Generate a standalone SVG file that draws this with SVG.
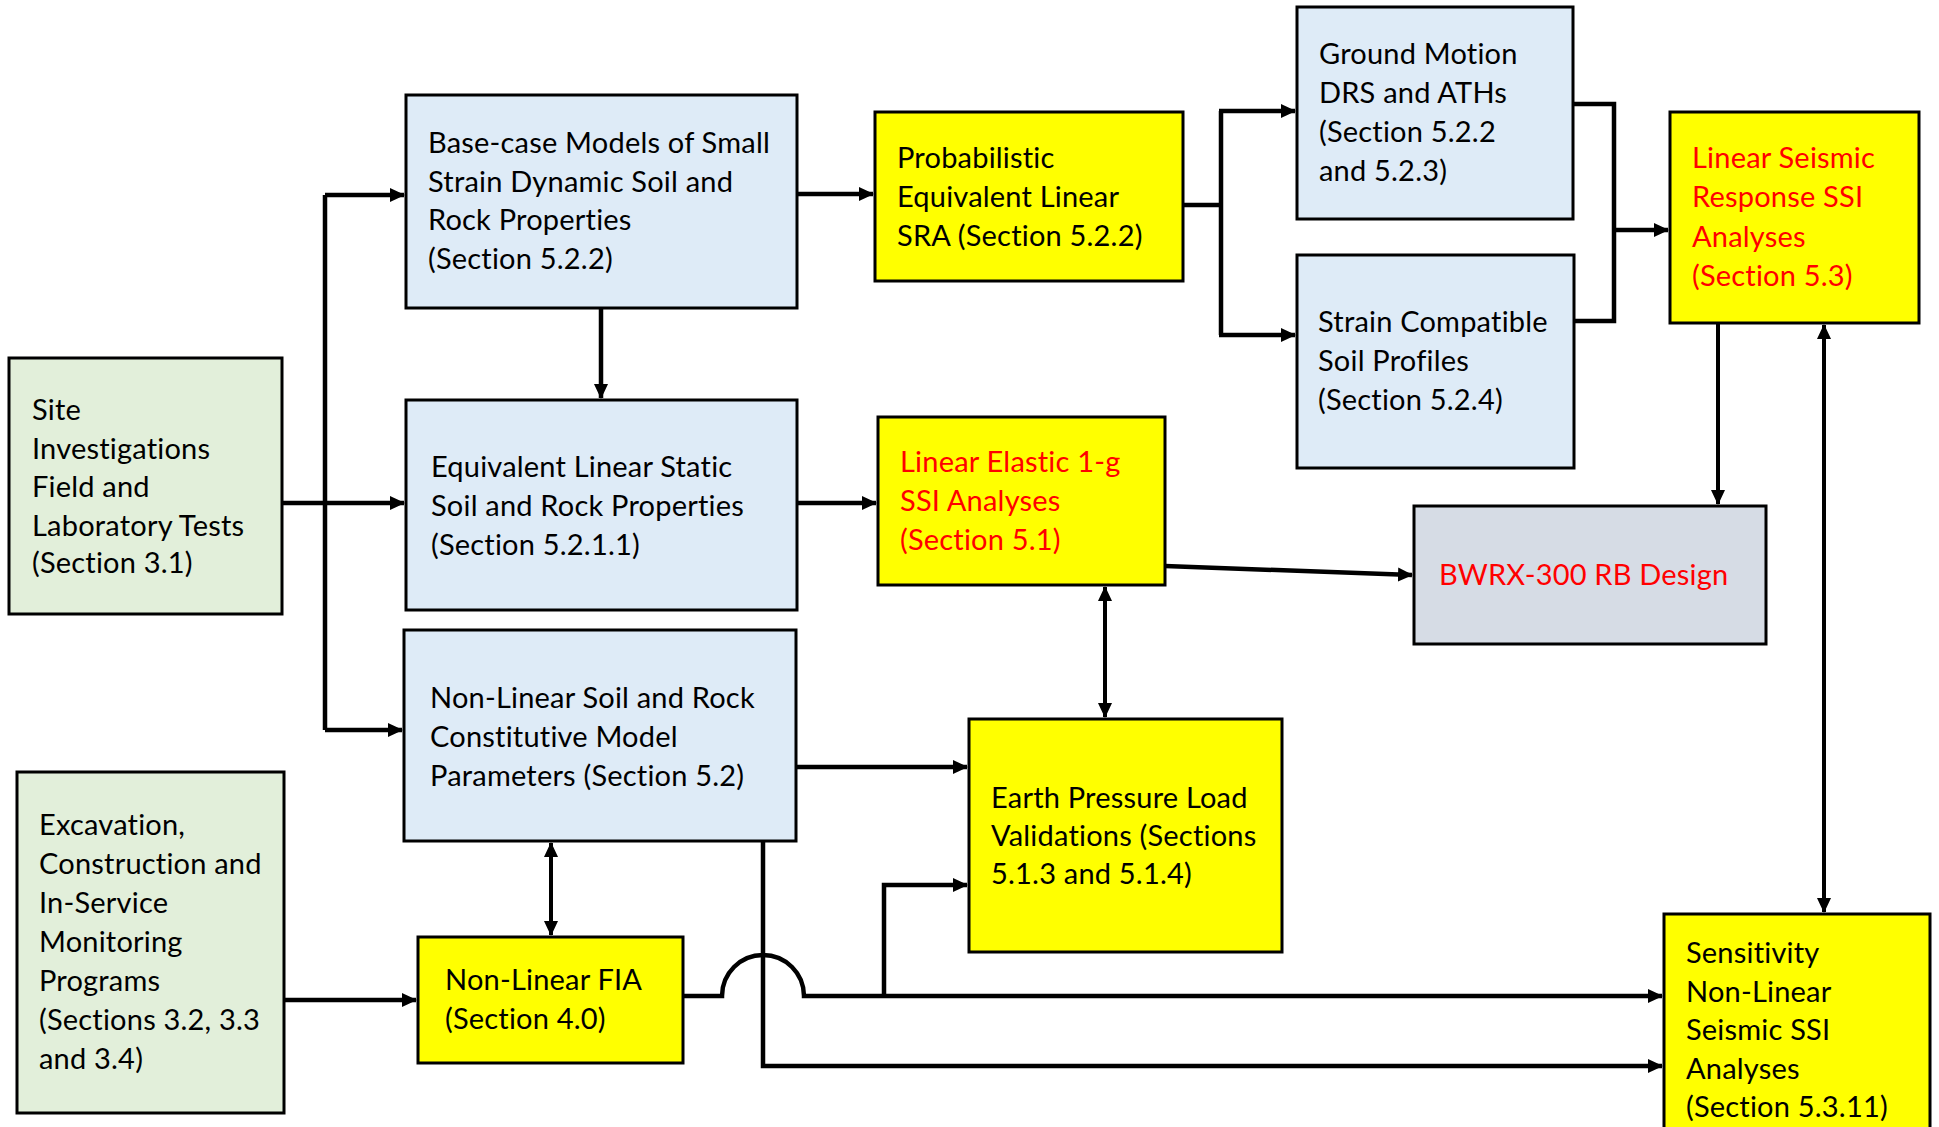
<svg xmlns="http://www.w3.org/2000/svg" width="1939" height="1127" viewBox="0 0 1939 1127">
<style>
  .box{stroke:#000;stroke-width:3}
  .blue{fill:#DEEBF7}
  .green{fill:#E2EFDA}
  .yellow{fill:#FFFF00}
  .gray{fill:#D6DCE5}
  text{font-family:Lato,"Liberation Sans",sans-serif;font-size:29px;letter-spacing:0.2px;fill:#000}
  text.red{fill:#FF0000}
  .conn{fill:none;stroke:#000;stroke-width:4.5}
  .thin{stroke-width:4}
</style>
<defs>
  <marker id="ah" markerUnits="userSpaceOnUse" markerWidth="16" markerHeight="16" refX="14" refY="7" orient="auto-start-reverse" viewBox="0 0 16 14">
    <path d="M0,0 L15,7 L0,14 z" fill="#000"/>
  </marker>
</defs>
<rect width="1939" height="1127" fill="#fff"/>

<g id="connectors">
  <path class="conn" d="M282,503 H404" marker-end="url(#ah)"/>
  <path class="conn" d="M325,195 V730"/>
  <path class="conn" d="M325,195 H404" marker-end="url(#ah)"/>
  <path class="conn" d="M325,730 H402" marker-end="url(#ah)"/>
  <path class="conn" d="M601,308 V398" marker-end="url(#ah)"/>
  <path class="conn" d="M797,194 H873" marker-end="url(#ah)"/>
  <path class="conn" d="M1183,205 H1221"/>
  <path class="conn" d="M1221,111 V335"/>
  <path class="conn" d="M1219,111 H1295" marker-end="url(#ah)"/>
  <path class="conn" d="M1219,335 H1295" marker-end="url(#ah)"/>
  <path class="conn" d="M1573,104 H1614 V321 H1574"/>
  <path class="conn" d="M1614,230 H1668" marker-end="url(#ah)"/>
  <path class="conn" d="M797,503 H876" marker-end="url(#ah)"/>
  <path class="conn" d="M1165,566 L1412,575" marker-end="url(#ah)"/>
  <path class="conn thin" d="M1718,323 V504" marker-end="url(#ah)"/>
  <path class="conn thin" d="M1824,325 V912" marker-start="url(#ah)" marker-end="url(#ah)"/>
  <path class="conn thin" d="M1105,587 V717" marker-start="url(#ah)" marker-end="url(#ah)"/>
  <path class="conn" d="M796,767 H967" marker-end="url(#ah)"/>
  <path class="conn thin" d="M551,843 V935" marker-start="url(#ah)" marker-end="url(#ah)"/>
  <path class="conn" d="M284,1000 H416" marker-end="url(#ah)"/>
  <path class="conn" d="M683,996 H722 A41,41 0 0 1 804,996 H1662" marker-end="url(#ah)"/>
  <path class="conn" d="M884,996 V885 H967" marker-end="url(#ah)"/>
  <path class="conn" d="M763,841 V1066 H1662" marker-end="url(#ah)"/>
</g>

<g id="site">
  <rect class="box green" x="9" y="358" width="273" height="256"/>
  <text x="32" y="420">Site</text>
  <text x="32" y="458.5">Investigations</text>
  <text x="32" y="497">Field and</text>
  <text x="32" y="535.5">Laboratory Tests</text>
  <text x="32" y="573">(Section 3.1)</text>
</g>
<g id="base">
  <rect class="box blue" x="406" y="95" width="391" height="213"/>
  <text x="428" y="153">Base-case Models of Small</text>
  <text x="428" y="191.5">Strain Dynamic Soil and</text>
  <text x="428" y="230">Rock Properties</text>
  <text x="428" y="268.5">(Section 5.2.2)</text>
</g>
<g id="equiv">
  <rect class="box blue" x="406" y="400" width="391" height="210"/>
  <text x="431" y="477">Equivalent Linear Static</text>
  <text x="431" y="516">Soil and Rock Properties</text>
  <text x="431" y="555">(Section 5.2.1.1)</text>
</g>
<g id="nlsoil">
  <rect class="box blue" x="404" y="630" width="392" height="211"/>
  <text x="430" y="708">Non-Linear Soil and Rock</text>
  <text x="430" y="747">Constitutive Model</text>
  <text x="430" y="786">Parameters (Section 5.2)</text>
</g>
<g id="excav">
  <rect class="box green" x="17" y="772" width="267" height="341"/>
  <text x="39" y="835">Excavation,</text>
  <text x="39" y="874">Construction and</text>
  <text x="39" y="913">In-Service</text>
  <text x="39" y="952">Monitoring</text>
  <text x="39" y="991">Programs</text>
  <text x="39" y="1030">(Sections 3.2, 3.3</text>
  <text x="39" y="1069">and 3.4)</text>
</g>
<g id="fia">
  <rect class="box yellow" x="418" y="937" width="265" height="126"/>
  <text x="445" y="990">Non-Linear FIA</text>
  <text x="445" y="1029">(Section 4.0)</text>
</g>
<g id="prob">
  <rect class="box yellow" x="875" y="112" width="308" height="169"/>
  <text x="897" y="168">Probabilistic</text>
  <text x="897" y="207">Equivalent Linear</text>
  <text x="897" y="246">SRA (Section 5.2.2)</text>
</g>
<g id="ground">
  <rect class="box blue" x="1297" y="7" width="276" height="212"/>
  <text x="1319" y="64">Ground Motion</text>
  <text x="1319" y="103">DRS and ATHs</text>
  <text x="1319" y="142">(Section 5.2.2</text>
  <text x="1319" y="181">and 5.2.3)</text>
</g>
<g id="strain">
  <rect class="box blue" x="1297" y="255" width="277" height="213"/>
  <text x="1318" y="332">Strain Compatible</text>
  <text x="1318" y="371">Soil Profiles</text>
  <text x="1318" y="410">(Section 5.2.4)</text>
</g>
<g id="linseis">
  <rect class="box yellow" x="1670" y="112" width="249" height="211"/>
  <text class="red" x="1692" y="168">Linear Seismic</text>
  <text class="red" x="1692" y="207">Response SSI</text>
  <text class="red" x="1692" y="247">Analyses</text>
  <text class="red" x="1692" y="286">(Section 5.3)</text>
</g>
<g id="linelas">
  <rect class="box yellow" x="878" y="417" width="287" height="168"/>
  <text class="red" x="900" y="472">Linear Elastic 1-g</text>
  <text class="red" x="900" y="511">SSI Analyses</text>
  <text class="red" x="900" y="550">(Section 5.1)</text>
</g>
<g id="bwrx">
  <rect class="box gray" x="1414" y="506" width="352" height="138"/>
  <text class="red" x="1439" y="585">BWRX-300 RB Design</text>
</g>
<g id="earth">
  <rect class="box yellow" x="969" y="719" width="313" height="233"/>
  <text x="991" y="808">Earth Pressure Load</text>
  <text x="991" y="846">Validations (Sections</text>
  <text x="991" y="884">5.1.3 and 5.1.4)</text>
</g>
<g id="sens">
  <rect class="box yellow" x="1664" y="914" width="266" height="230"/>
  <text x="1686" y="963">Sensitivity</text>
  <text x="1686" y="1002">Non-Linear</text>
  <text x="1686" y="1040">Seismic SSI</text>
  <text x="1686" y="1079">Analyses</text>
  <text x="1686" y="1117">(Section 5.3.11)</text>
</g>
</svg>
